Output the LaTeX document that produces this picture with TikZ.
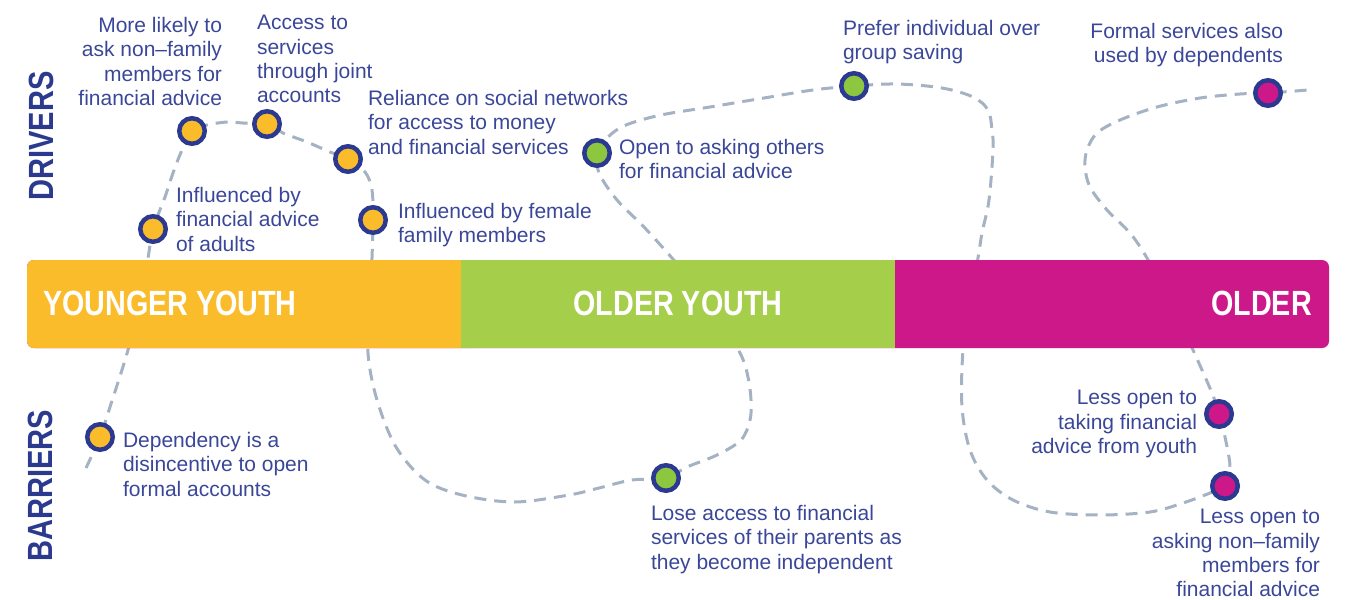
\documentclass[tikz,border=0pt]{standalone}
\usepackage{fontspec}
\setmainfont{Liberation Sans}
\newfontfamily\hdfont[FakeStretch=0.83]{Liberation Sans}
\newfontfamily\barfont[FakeStretch=0.82]{Liberation Sans}
\definecolor{textblue}{HTML}{3A4799}
\definecolor{ringblue}{HTML}{2B3990}
\definecolor{hdblue}{HTML}{2B3A8E}
\definecolor{yel}{HTML}{FBBC2C}
\definecolor{grn}{HTML}{A5CE4B}
\definecolor{dotgrn}{HTML}{8DC63F}
\definecolor{mag}{HTML}{CC1889}
\definecolor{dashc}{HTML}{A5B2C3}
\tikzset{
  lbl/.style={font=\fontsize{21}{24.2}\selectfont, text=textblue, inner sep=0pt, outer sep=0pt},
  hdr/.style={font=\hdfont\bfseries\fontsize{35}{35}\selectfont, text=hdblue, inner sep=0pt, rotate=90},
  barlbl/.style={font=\barfont\bfseries\fontsize{35}{35}\selectfont, text=white, inner sep=0pt},
  dot/.style={circle, draw=ringblue, line width=4.5pt, minimum size=25.5pt, inner sep=0pt},
  ydot/.style={dot, fill=yel},
  gdot/.style={dot, fill=dotgrn},
  mdot/.style={dot, fill=mag},
  trail/.style={draw=dashc, line width=3pt, dash pattern=on 12pt off 8pt},
}
\begin{document}
\begin{tikzpicture}[x=1pt,y=-1pt]
\useasboundingbox (0,0) rectangle (1345,600);
% dot positions
\coordinate (dA) at (192,131);
\coordinate (dB) at (267,124);
\coordinate (dC) at (348,159);
\coordinate (dD) at (153,229);
\coordinate (dE) at (373,220);
\coordinate (dF) at (100,437);
\coordinate (dG) at (666,478);
\coordinate (dH) at (597,153);
\coordinate (dI) at (854,86);
\coordinate (dJ) at (1268,93);
\coordinate (dK) at (1219,414);
\coordinate (dL) at (1225,486);
\coordinate (tStart) at (86,468);
\coordinate (tEnd) at (1308,90);
% dashed trail
\draw[trail] plot[smooth, tension=0.55] coordinates {(tStart) (dF) (110,407) (128,350) (140,300) (148,258) (dD) (165,197) (173,173) (182,150) (dA) (207,125) (227,122) (243,123) (dB) (283,133) (307,142) (330,152) (dC) (365,172) (372,190) (dE) (372,258) (370,300) (368,353) (377,400) (396,447) (425,480) (462,495) (514,502) (569,495) (599,488) (632,480) (dG) (687,467) (717,455) (741,440) (750,420) (751,400) (748,377) (741,355) (720,320) (695,285) (672,258) (644,227) (617,200) (599,173) (dH)};
\draw[trail] plot[smooth, tension=0.55] coordinates {(dH) (608,137) (626,125) (661,115) (710,107) (764,98) (813,90) (dI) (897,84) (942,88) (973,97) (988,110) (992,130) (993,150) (989,200) (982,233) (978,258) (970,300) (963,350) (962,407) (970,450) (987,480) (1013,500) (1050,512) (1100,515) (1150,512) (1183,503) (1210,493) (dL)};
\draw[trail] plot[smooth, tension=0.55] coordinates {(dL) (1230,467) (1225,437) (dK) (1212,393) (1193,350) (1170,300) (1147,258) (1130,233) (1107,210) (1090,187) (1085,167) (1087,150) (1097,133) (1120,120) (1157,107) (1200,98) (1240,94) (dJ) (tEnd)};
% bar
\fill[mag, rounded corners=7pt] (27,260) rectangle (1329,348);
\fill[yel, rounded corners=7pt] (27,260) rectangle (480,348);
\fill[grn] (461,260) rectangle (895,348);
\node[barlbl, anchor=base west] (byy) at (43,315) {YOUNGER YOUTH};
\node[barlbl, anchor=base] (boy) at (678,315) {OLDER YOUTH};
\node[barlbl, anchor=base east] (bo) at (1312,315) {OLDER};
% headers
\node[hdr] (drv) at (41,136) {DRIVERS};
\node[hdr] (bar) at (40,486) {BARRIERS};
% dots
\node[ydot] (nA) at (dA) {};
\node[ydot] (nB) at (dB) {};
\node[ydot] (nC) at (dC) {};
\node[ydot] (nD) at (dD) {};
\node[ydot] (nE) at (dE) {};
\node[ydot] (nF) at (dF) {};
\node[gdot] (nG) at (dG) {};
\node[gdot] (nH) at (dH) {};
\node[gdot] (nI) at (dI) {};
\node[mdot] (nJ) at (dJ) {};
\node[mdot] (nK) at (dK) {};
\node[mdot] (nL) at (dL) {};
% labels
\node[lbl, align=right, anchor=north east] (t1) at (222,17.5) {More likely to\\ask non–family\\members for\\financial advice};
\node[lbl, align=left, anchor=north west] (t2) at (257,15.5) {Access to\\services\\through joint\\accounts};
\node[lbl, align=left, anchor=north west] (t3) at (368,90.5) {Reliance on social networks\\for access to money\\and financial services};
\node[lbl, align=left, anchor=north west] (t4) at (176,187.5) {Influenced by\\financial advice\\of adults};
\node[lbl, align=left, anchor=north west] (t5) at (398,203.5) {Influenced by female\\family members};
\node[lbl, align=left, anchor=north west] (t6) at (619,139.5) {Open to asking others\\for financial advice};
\node[lbl, align=left, anchor=north west] (t7) at (843,20.5) {Prefer individual over\\group saving};
\node[lbl, align=right, anchor=north east] (t8) at (1283,23.5) {Formal services also\\used by dependents};
\node[lbl, align=left, anchor=north west] (t9) at (123,432.5) {Dependency is a\\disincentive to open\\formal accounts};
\node[lbl, align=left, anchor=north west] (t10) at (651,505.5) {Lose access to financial\\services of their parents as\\they become independent};
\node[lbl, align=right, anchor=north east] (t11) at (1197,390.5) {Less open to\\taking financial\\advice from youth};
\node[lbl, align=right, anchor=north east] (t12) at (1320,509.5) {Less open to\\asking non–family\\members for\\financial advice};
\end{tikzpicture}
\end{document}
